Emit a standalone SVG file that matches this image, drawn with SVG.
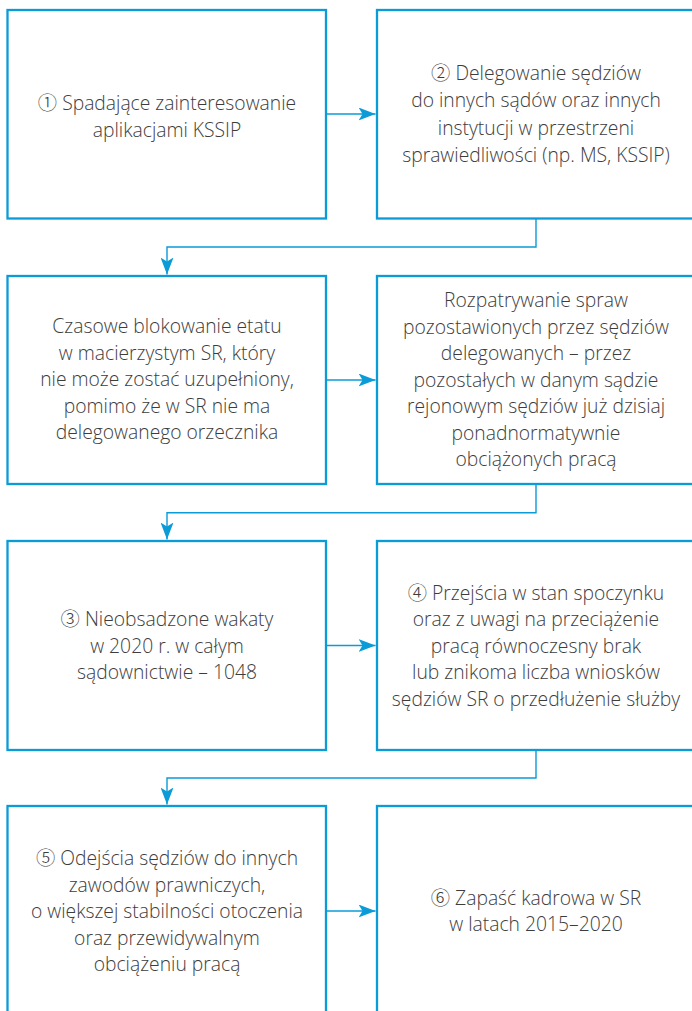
<svg xmlns="http://www.w3.org/2000/svg" width="692" height="1011" viewBox="0 0 692 1011">
<style>
.box{fill:#fff;stroke:#0b9bd7;stroke-width:2.3}
.con{fill:none;stroke:#0b9bd7;stroke-width:1.4}
text{font-family:"Open Sans","Noto Sans","DejaVu Sans",sans-serif;font-weight:300;font-size:19.3px;fill:#3d3d3d;text-anchor:middle}
.n{font-family:"Noto Sans CJK JP","DejaVu Sans",sans-serif;font-weight:300}
</style>
<defs>
<marker id="ah" markerUnits="userSpaceOnUse" markerWidth="18" markerHeight="13" refX="17" refY="6.5" orient="auto">
<path d="M0,0 L17,6.5 L0,13 L4,6.5 Z" fill="#0b9bd7"/>
</marker>
</defs>
<rect width="692" height="1011" fill="#fff"/>
<g id="n1"><rect class="box" x="7.5" y="10" width="318.5" height="208.5"/>
<text x="167" y="110"><tspan class="n">①</tspan> Spadające zainteresowanie</text>
<text x="167" y="137">aplikacjami KSSIP</text></g>
<g id="n2"><rect class="box" x="377" y="10" width="330" height="208.5"/>
<text x="536" y="79.5"><tspan class="n">②</tspan> Delegowanie sędziów</text>
<text x="536" y="107">do innych sądów oraz innych</text>
<text x="536" y="134.5">instytucji w przestrzeni</text>
<text x="536" y="162">sprawiedliwości (np. MS, KSSIP)</text></g>
<g id="n3"><rect class="box" x="7.5" y="276" width="318.5" height="208"/>
<text x="167" y="333">Czasowe blokowanie etatu</text>
<text x="167" y="359.5">w macierzystym SR, który</text>
<text x="167" y="386">nie może zostać uzupełniony,</text>
<text x="167" y="412.5">pomimo że w SR nie ma</text>
<text x="167" y="439">delegowanego orzecznika</text></g>
<g id="n4"><rect class="box" x="377" y="276" width="330" height="208"/>
<text x="536" y="307">Rozpatrywanie spraw</text>
<text x="536" y="333.5">pozostawionych przez sędziów</text>
<text x="536" y="360">delegowanych – przez</text>
<text x="536" y="386.5">pozostałych w danym sądzie</text>
<text x="536" y="413">rejonowym sędziów już dzisiaj</text>
<text x="536" y="439.5">ponadnormatywnie</text>
<text x="536" y="466">obciążonych pracą</text></g>
<g id="n5"><rect class="box" x="7.5" y="541" width="318.5" height="209"/>
<text x="167" y="626"><tspan class="n">③</tspan> Nieobsadzone wakaty</text>
<text x="167" y="652.5">w 2020 r. w całym</text>
<text x="167" y="679">sądownictwie – 1048</text></g>
<g id="n6"><rect class="box" x="377" y="541" width="330" height="209"/>
<text x="536" y="599.5"><tspan class="n">④</tspan> Przejścia w stan spoczynku</text>
<text x="536" y="626">oraz z uwagi na przeciążenie</text>
<text x="536" y="652.5">pracą równoczesny brak</text>
<text x="536" y="679">lub znikoma liczba wniosków</text>
<text x="536" y="705.5">sędziów SR o przedłużenie służby</text></g>
<g id="n7"><rect class="box" x="7.5" y="806" width="318.5" height="215"/>
<text x="167" y="865"><tspan class="n">⑤</tspan> Odejścia sędziów do innych</text>
<text x="167" y="891.5">zawodów prawniczych,</text>
<text x="167" y="918">o większej stabilności otoczenia</text>
<text x="167" y="944.5">oraz przewidywalnym</text>
<text x="167" y="971">obciążeniu pracą</text></g>
<g id="n8"><rect class="box" x="377" y="806" width="330" height="215"/>
<text x="536" y="904.5"><tspan class="n">⑥</tspan> Zapaść kadrowa w SR</text>
<text x="536" y="931">w latach 2015–2020</text></g>
<g id="connectors">
<path class="con" d="M326,114 H375.5" marker-end="url(#ah)"/>
<path class="con" d="M536,218.5 V247 H167 V274.5" marker-end="url(#ah)"/>
<path class="con" d="M326,380 H375.5" marker-end="url(#ah)"/>
<path class="con" d="M536,484 V512.7 H167 V539.5" marker-end="url(#ah)"/>
<path class="con" d="M326,645.5 H375.5" marker-end="url(#ah)"/>
<path class="con" d="M536,750 V778 H167 V804.5" marker-end="url(#ah)"/>
<path class="con" d="M326,911 H375.5" marker-end="url(#ah)"/>
</g>
</svg>
